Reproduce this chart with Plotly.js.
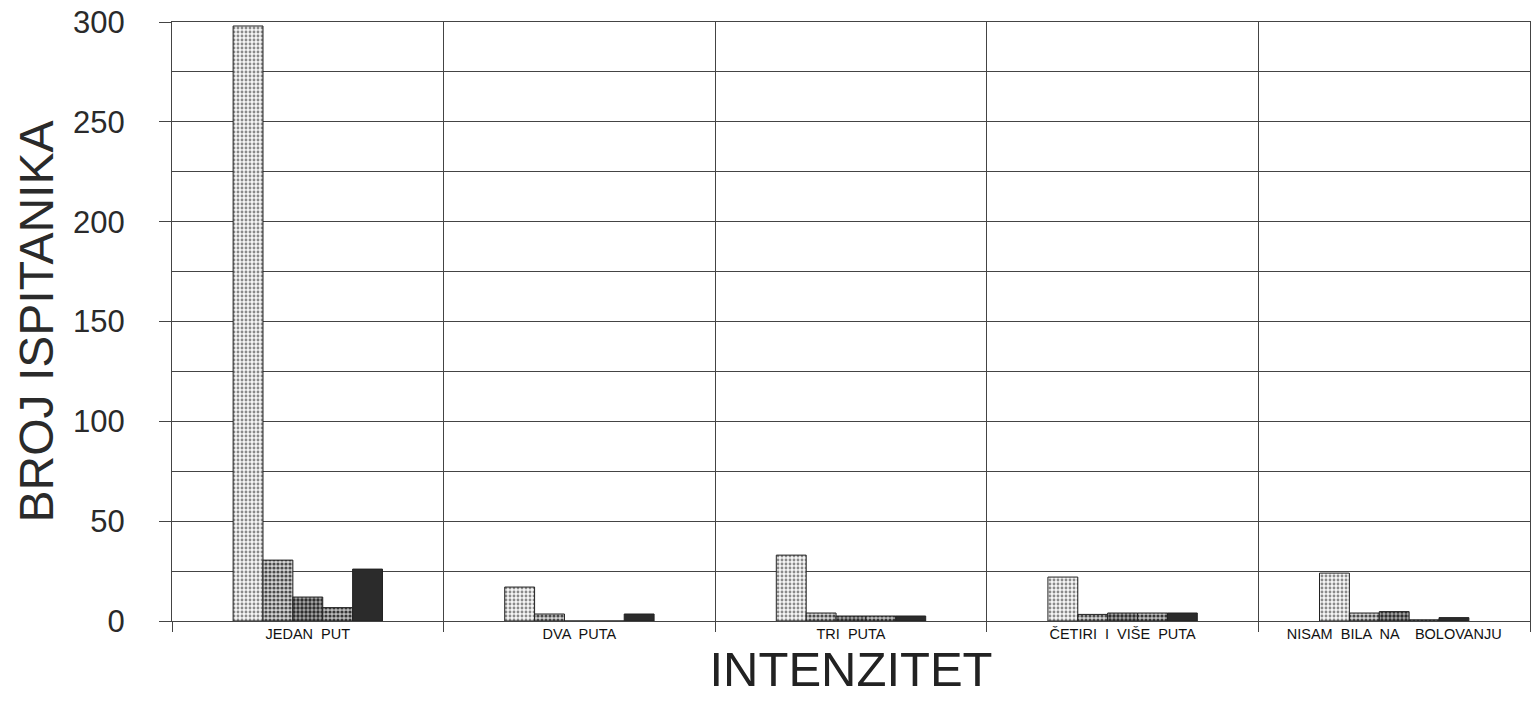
<!DOCTYPE html>
<html>
<head>
<meta charset="utf-8">
<script src="https://cdn.plot.ly/plotly-3.0.1.min.js"></script>
<style>html,body{margin:0;padding:0;background:#fff;}#chart{width:1532px;height:702px;}</style>
</head>
<body>
<div id="chart"></div>
<script>
const categories = ["JEDAN  PUT", "DVA  PUTA", "TRI  PUTA", "ČETIRI  I  VIŠE  PUTA", "NISAM  BILA  NA    BOLOVANJU"];
const series1 = [298, 17, 33, 22, 24];
const series2 = [30.5, 3.5, 4, 3.3, 4];
const series3 = [12, 0, 2.5, 4, 4.7];
const series4 = [6.7, 0, 2.5, 4, 0.6];
const series5 = [26, 3.5, 2.5, 4, 1.7];
const seriesNames = ["S1", "S2", "S3", "S4", "S5"];
const yTicks = [0, 50, 100, 150, 200, 250, 300];

const styles = [
  {shape: ".", bg: "#f6f6f6", fg: "#8a8a8a", size: 4, solidity: 0.4},
  {shape: ".", bg: "#d4d4d4", fg: "#4a4a4a", size: 4, solidity: 0.5},
  {shape: ".", bg: "#a8a8a8", fg: "#2e2e2e", size: 4, solidity: 0.55},
  {shape: ".", bg: "#bcbcbc", fg: "#353535", size: 4, solidity: 0.5},
  {shape: "", bg: "#2b2b2b", fg: "#2b2b2b", size: 4, solidity: 0.5}
];
const allSeries = [series1, series2, series3, series4, series5];

const traces = allSeries.map((vals, i) => ({
  type: "bar",
  name: seriesNames[i],
  x: categories,
  y: vals,
  marker: {
    color: styles[i].bg,
    line: {color: "#222", width: 1},
    pattern: {shape: styles[i].shape, bgcolor: styles[i].bg, fgcolor: styles[i].fg, size: styles[i].size, solidity: styles[i].solidity}
  },
  hoverinfo: "x+y"
}));

const layout = {
  width: 1532, height: 702,
  margin: {l: 172, r: 2, t: 22, b: 81},
  paper_bgcolor: "#fff", plot_bgcolor: "#fff",
  showlegend: false,
  barmode: "group",
  bargap: 0.45,
  bargroupgap: 0,
  font: {family: "Liberation Sans, Arial, sans-serif", color: "#2a2a2a"},
  xaxis: {
    type: "category",
    tickson: "boundaries",
    showgrid: true, gridcolor: "#444", gridwidth: 1,
    ticks: "outside", ticklen: 10, tickcolor: "#444", tickwidth: 1,
    showline: true, linecolor: "#444", linewidth: 1, mirror: true,
    tickfont: {size: 14.5, family: "Liberation Sans, Arial, sans-serif", color: "#111"},
    title: {text: "INTENZITET", font: {size: 49, family: "Liberation Sans, Arial, sans-serif", color: "#222"}, standoff: 0},
    zeroline: false
  },
  yaxis: {
    range: [0, 300],
    tickvals: yTicks,
    ticktext: yTicks.map(String),
    showgrid: true, gridcolor: "#444", gridwidth: 1,
    ticks: "outside", ticklen: 12, tickcolor: "#444",
    showline: true, linecolor: "#444", linewidth: 1, mirror: true,
    tickfont: {size: 31, color: "#2a2a2a"},
    ticklabelstandoff: 28,
    zeroline: false,
    minor: {dtick: 25, showgrid: true, gridcolor: "#444", gridwidth: 1},
    title: {text: "BROJ ISPITANIKA", font: {size: 48, family: "Liberation Sans, Arial, sans-serif", color: "#2a2a2a"}, standoff: 4}
  }
};

Plotly.newPlot("chart", traces, layout, {displayModeBar: false, staticPlot: true});
</script>
</body>
</html>
